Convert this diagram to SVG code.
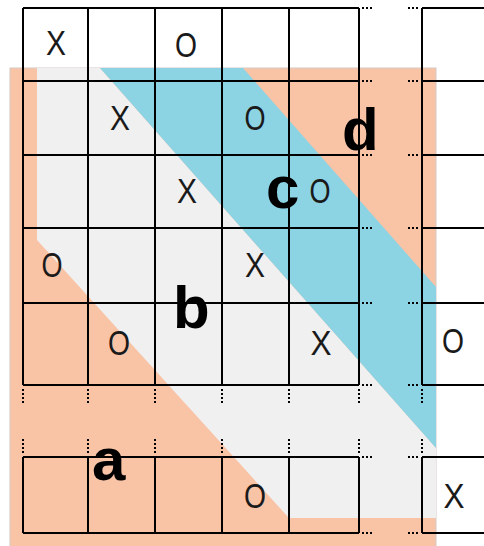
<svg xmlns="http://www.w3.org/2000/svg" width="484" height="546" viewBox="0 0 484 546">
<style>
.ln{stroke:#000;stroke-width:2;fill:none}
.dt{stroke:#000;stroke-width:2;fill:none;stroke-dasharray:2 2}
.xo{font-family:"Liberation Sans",Arial,sans-serif;font-size:35px;fill:#1a1a1a;text-anchor:middle}
.big{font-family:"Liberation Sans",Arial,sans-serif;font-size:60px;font-weight:bold;fill:#000}
</style>
<rect width="484" height="546" fill="#fff"/>
<g id="regions">
<rect id="region-a-d" x="10" y="68" width="426" height="480" fill="#F9C3A6" stroke="#d3c9c4" stroke-width="1"/>
<polygon id="region-b" points="37,68 100,68 436,448 436,518 289,518 37,240" fill="#F0F0F0"/>
<polygon id="region-c" points="100,68 243,68 436,287 436,448" fill="#8CD3E4"/>
</g>
<g id="grid">
<path class="ln" d="M23,8V385M88,8V385M155,8V385M222,8V385M289,8V385M359,8V385M422,8V385
M23,457V533M88,457V533M155,457V533M222,457V533M289,457V533M359,457V533M422,457V533
M23,8H359M23,81H359M23,155H359M23,228H359M23,303H359M23,385H359M23,457H359M23,533H359
M422,8H484M422,81H484M422,155H484M422,228H484M422,303H484M422,385H484M422,457H484M422,533H484"/>
<path class="dt" d="M362,8h10M362,81h10M362,155h10M362,228h10M362,303h10M362,385h10M362,457h10M362,533h10
M408,8h10M408,81h10M408,155h10M408,228h10M408,303h10M408,385h10M408,457h10M408,533h10
M23,389v16M88,389v16M155,389v16M222,389v16M289,389v16M359,389v16M422,389v16
M23,439v16M88,439v16M155,439v16M222,439v16M289,439v16M359,439v16M422,439v16"/>
</g>
<g id="marks">
<text class="xo" x="56" y="55" textLength="20" lengthAdjust="spacingAndGlyphs">X</text>
<text class="xo" x="186" y="57" textLength="22" lengthAdjust="spacingAndGlyphs">O</text>
<text class="xo" x="120" y="130" textLength="20" lengthAdjust="spacingAndGlyphs">X</text>
<text class="xo" x="255" y="130" textLength="21" lengthAdjust="spacingAndGlyphs">O</text>
<text class="xo" x="187" y="203" textLength="20" lengthAdjust="spacingAndGlyphs">X</text>
<text class="xo" x="320" y="203" textLength="21" lengthAdjust="spacingAndGlyphs">O</text>
<text class="xo" x="52" y="277" textLength="21" lengthAdjust="spacingAndGlyphs">O</text>
<text class="xo" x="255" y="277" textLength="20" lengthAdjust="spacingAndGlyphs">X</text>
<text class="xo" x="119" y="355" textLength="22" lengthAdjust="spacingAndGlyphs">O</text>
<text class="xo" x="321" y="355" textLength="21" lengthAdjust="spacingAndGlyphs">X</text>
<text class="xo" x="453" y="353" textLength="22" lengthAdjust="spacingAndGlyphs">O</text>
<text class="xo" x="255" y="508" textLength="22" lengthAdjust="spacingAndGlyphs">O</text>
<text class="xo" x="454" y="508" textLength="21" lengthAdjust="spacingAndGlyphs">X</text>
</g>
<g id="labels">
<text id="label-a" class="big" x="92" y="480">a</text>
<text id="label-b" class="big" x="173" y="328">b</text>
<text id="label-c" class="big" x="266" y="208">c</text>
<text id="label-d" class="big" x="342" y="150">d</text>
</g>
</svg>
